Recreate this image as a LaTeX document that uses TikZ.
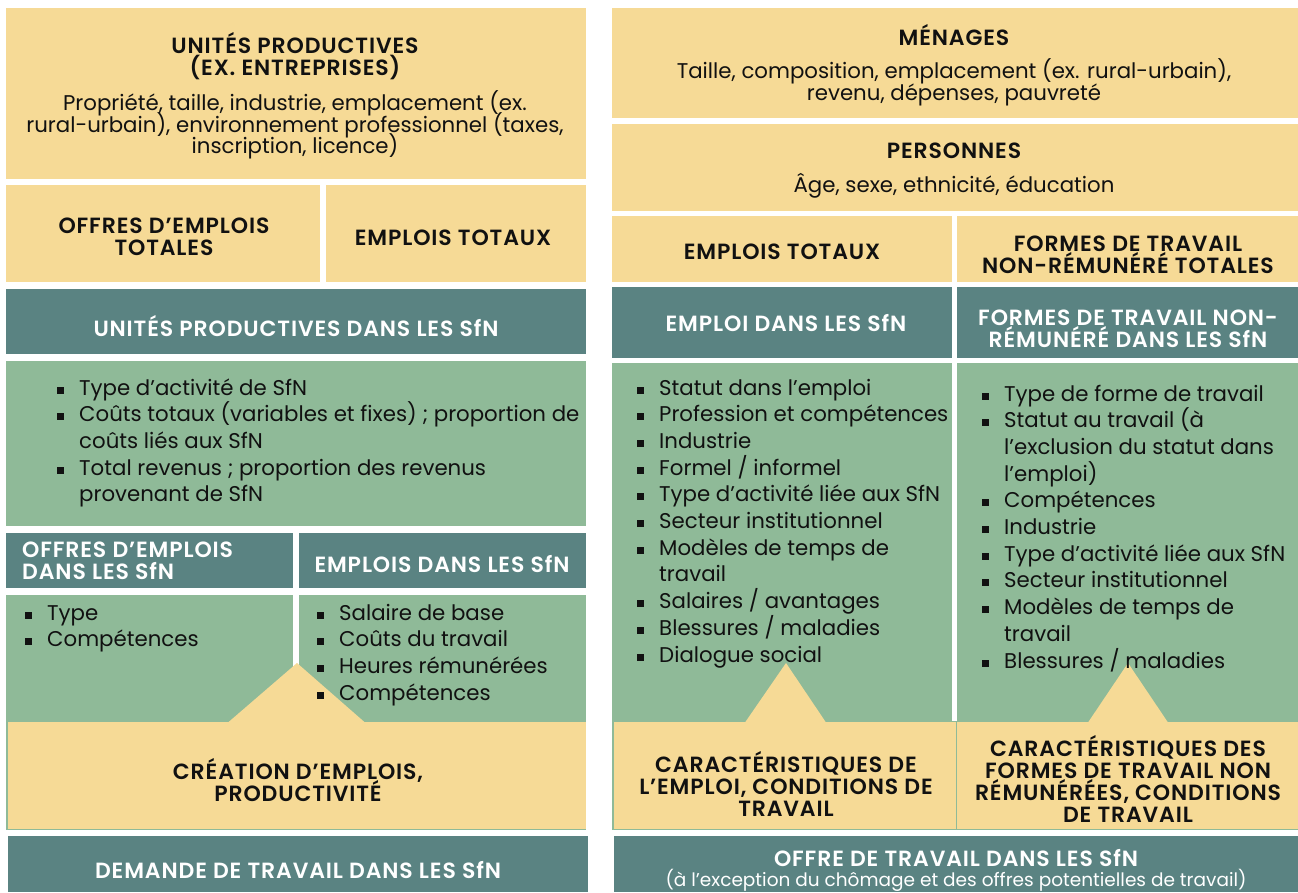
\documentclass[tikz,border=0pt]{standalone}
\usepackage{fontspec}
\setmainfont{Poppins}
\newfontfamily\hdfont[LetterSpace=4, BoldFont={Poppins SemiBold}]{Poppins}
\definecolor{cyel}{RGB}{246,218,150}
\definecolor{cteal}{RGB}{90,131,130}
\definecolor{cgreen}{RGB}{143,186,152}
\definecolor{ctext}{RGB}{17,17,17}
\newcommand\blt{\makebox[22pt][l]{\raisebox{1.5pt}{\rule{7pt}{7pt}}}}
\newcommand\cnt{\hspace*{22pt}}
\newcommand\li[1]{\hbox{\blt #1}}
\newcommand\lc[1]{\hbox{\cnt #1}}
\newcommand\tightls{\lineskiplimit-50pt\relax}
\newcommand\hdsize{\fontsize{22}{21.7}\selectfont\tightls}
\newcommand\bdsize{\fontsize{21.3}{21.7}\selectfont\tightls}
\newcommand\lsize{\fontsize{21.3}{26.7}\selectfont\tightls}
\begin{document}
\begin{tikzpicture}[x=1pt,y=-1pt,
  yel/.style={fill=cyel},
  teal/.style={fill=cteal},
  grn/.style={fill=cgreen},
  hd/.style={font={\hdfont\bfseries\hdsize}, align=center, text=ctext, inner sep=0},
  hdw/.style={hd, text=white},
  bd/.style={font={\bdsize}, align=center, text=ctext, inner sep=0},
  lst/.style={anchor=base west, inner sep=0, text=ctext, font={\lsize}},
]
\useasboundingbox[fill=white] (0,0) rectangle (1298,892);
% ---------- left column ----------
\fill[yel] (6,8) rectangle (586,179);
\fill[yel] (6,185) rectangle (320,282);
\fill[yel] (326,185) rectangle (586,282);
\fill[teal] (6,289) rectangle (586,354);
\fill[grn] (6,361) rectangle (586,526);
\fill[teal] (6,533) rectangle (293,588);
\fill[teal] (299,533) rectangle (586,588);
\fill[grn] (6,595) rectangle (293,830);
\fill[grn] (299,595) rectangle (586,830);
\fill[grn] (293,690) rectangle (299,830);
\fill[yel] (7.5,722) rectangle (586,828.5);
\fill[yel] (228,722.5) -- (297,663) -- (365,722.5) -- cycle;
\fill[teal] (8,836) rectangle (588,892);
% ---------- right column ----------
\fill[yel] (612,8) rectangle (1298,118);
\fill[yel] (612,124) rectangle (1298,211);
\fill[yel] (612,216) rectangle (952,282);
\fill[yel] (957,216) rectangle (1298,282);
\fill[teal] (612,287) rectangle (952,358);
\fill[teal] (957,287) rectangle (1298,358);
\fill[grn] (612,363) rectangle (952,830);
\fill[grn] (957,363) rectangle (1298,830);
\fill[grn] (952,721) rectangle (957,830);
\fill[yel] (613.5,722) rectangle (955.5,828.5);
\fill[yel] (957,722) rectangle (1298,828.5);
\fill[yel] (745,722.5) -- (786,663) -- (826,722.5) -- cycle;
\fill[yel] (1088,722.5) -- (1128,663) -- (1168,722.5) -- cycle;
\fill[teal] (614,836) rectangle (1298,892);
% ---------- texts left ----------
\node[hd] (up) at (295,56) {UNITÉS PRODUCTIVES\\(EX. ENTREPRISES)};
\node[bd] (upb) at (295,125) {Propriété, taille, industrie, emplacement (ex.\\rural-urbain), environnement professionnel (taxes,\\inscription, licence)};
\node[hd] (oet) at (164,237) {OFFRES D’EMPLOIS\\TOTALES};
\node[hd] (et) at (453,238) {EMPLOIS TOTAUX};
\node[hdw] (upsfn) at (296,326) {UNITÉS PRODUCTIVES DANS LES SfN};
\node[lst] (upl) at (57,395) {\vtop{\lsize
\li{Type d’activité de SfN}
\li{Coûts totaux (variables et fixes) ; proportion de}
\lc{coûts liés aux SfN}
\li{Total revenus ; proportion des revenus}
\lc{provenant de SfN}}};
\node[hdw, align=left, anchor=west] (oesfn) at (22,561) {OFFRES D’EMPLOIS\\DANS LES SfN};
\node[hdw] (esfn) at (442,564) {EMPLOIS DANS LES SfN};
\node[lst] (oel) at (25,620) {\vtop{\lsize
\li{Type}
\li{Compétences}}};
\node[lst] (el) at (317,620) {\vtop{\lsize
\li{Salaire de base}
\li{Coûts du travail}
\li{Heures rémunérées}
\li{Compétences}}};
\node[hd] (crea) at (298,780) {CRÉATION D’EMPLOIS,\\PRODUCTIVITÉ};
\node[hdw] (dem) at (298,870) {DEMANDE DE TRAVAIL DANS LES SfN};
% ---------- texts right ----------
\node[hd] (men) at (954,35) {MÉNAGES};
\node[bd] (menb) at (954,82) {Taille, composition, emplacement (ex. rural-urbain),\\revenu, dépenses, pauvreté};
\node[hd] (pers) at (954,151) {PERSONNES};
\node[bd] (persb) at (954,186) {Âge, sexe, ethnicité, éducation};
\node[hd] (et2) at (782,252) {EMPLOIS TOTAUX};
\node[hd] (fnrt) at (1128,255) {FORMES DE TRAVAIL\\NON-RÉMUNÉRÉ TOTALES};
\node[hdw] (emsfn) at (786,323) {EMPLOI DANS LES SfN};
\node[hdw] (fnrsfn) at (1128,329) {FORMES DE TRAVAIL NON-\\RÉMUNÉRÉ DANS LES SfN};
\node[lst] (eml) at (637,395) {\vtop{\lsize
\li{Statut dans l’emploi}
\li{Profession et compétences}
\li{Industrie}
\li{Formel / informel}
\li{Type d’activité liée aux SfN}
\li{Secteur institutionnel}
\li{Modèles de temps de}
\lc{travail}
\li{Salaires / avantages}
\li{Blessures / maladies}
\li{Dialogue social}}};
\node[lst] (fnl) at (982,401) {\vtop{\lsize
\li{Type de forme de travail}
\li{Statut au travail (à}
\lc{l’exclusion du statut dans}
\lc{l’emploi)}
\li{Compétences}
\li{Industrie}
\li{Type d’activité liée aux SfN}
\li{Secteur institutionnel}
\li{Modèles de temps de}
\lc{travail}
\li{Blessures / maladies}}};
\node[hd] (carE) at (786,784) {CARACTÉRISTIQUES DE\\L’EMPLOI, CONDITIONS DE\\TRAVAIL};
\node[hd] (carF) at (1128,779) {CARACTÉRISTIQUES DES\\FORMES DE TRAVAIL NON\\RÉMUNÉRÉES, CONDITIONS\\DE TRAVAIL};
\node[hdw] (off) at (956,858) {OFFRE DE TRAVAIL DANS LES SfN};
\node[inner sep=0, text=white, font={\fontsize{18.5}{20}\selectfont}] (offs) at (956,880) {(à l’exception du chômage et des offres potentielles de travail)};
\end{tikzpicture}
\end{document}
